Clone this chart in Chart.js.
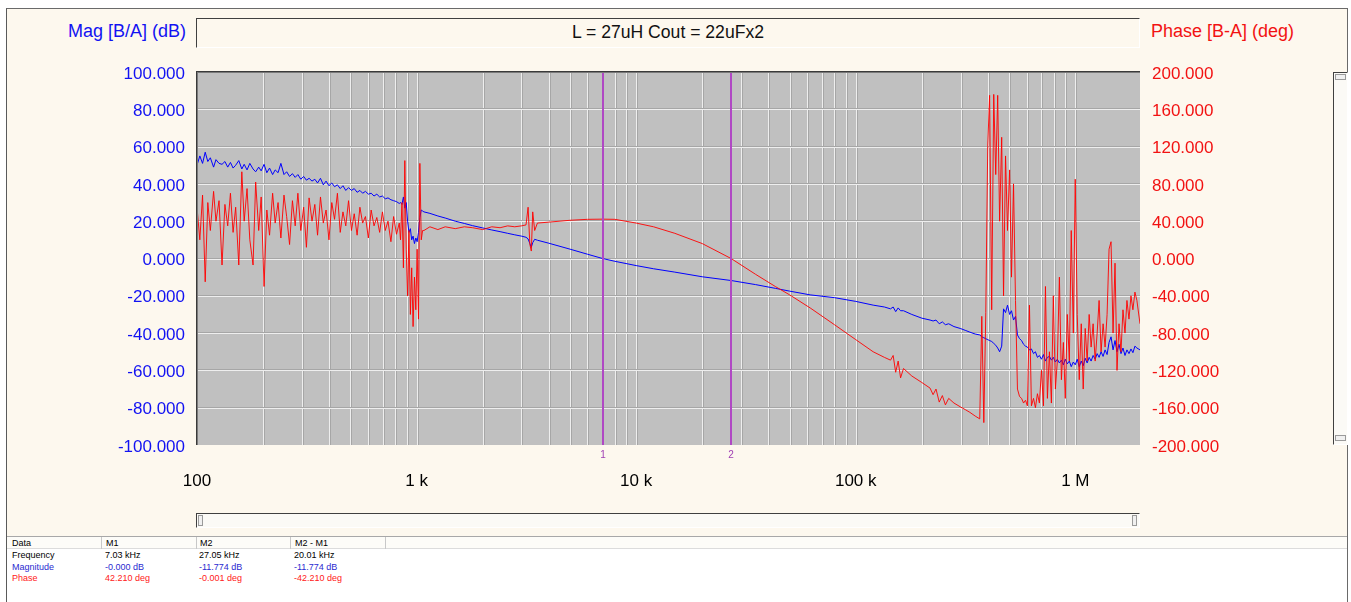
<!DOCTYPE html>
<html>
<head>
<meta charset="utf-8">
<script src="https://cdn.jsdelivr.net/npm/chart.js@4.4.0/dist/chart.umd.min.js"></script>
<style>
  html, body { margin: 0; padding: 0; width: 1351px; height: 602px; overflow: hidden; background: #fff; font-family: "Liberation Sans", Arial, sans-serif; }
  .abs { position: absolute; box-sizing: border-box; }
  #frame { left: 6px; top: 8px; width: 1342px; height: 594px; border-left: 1px solid #5a5a5a; border-top: 1px solid #6a6a6a; border-right: 1px solid #6a6a6a; background: #fff; }
  #panel { left: 7px; top: 9px; width: 1340px; height: 527px; background: #fdf8ee; }
  #chart { left: 0; top: 0; }
  #titleBox { left: 196px; top: 18px; width: 944px; height: 30px; border-top: 1px solid #404040; border-left: 1px solid #404040; border-bottom: 1px solid #fff; border-right: 1px solid #fff; text-align: center; font-size: 17.6px; line-height: 26px; color: #111; }
  .axisTitle { top: 20px; font-size: 18px; line-height: 22px; }
  #magTitle { left: 0; width: 186px; text-align: right; color: #1212f2; }
  #phaseTitle { left: 1151px; color: #f21212; }
  #hScroll { left: 196px; top: 513px; width: 944px; height: 15px; border-top: 1px solid #404040; border-left: 1px solid #404040; border-bottom: 1px solid #fff; border-right: 1px solid #fff; background: #fbfaf6; }
  #vScroll { left: 1333px; top: 72px; width: 15px; height: 373px; border-top: 1px solid #404040; border-left: 1px solid #404040; border-bottom: 1px solid #fff; border-right: 1px solid #fff; background: #fbfaf6; }
  .thumbV { width: 5px; height: 11px; border: 1px solid #9a9a9a; background: #f0f0f0; }
  .thumbH { width: 11px; height: 6px; border: 1px solid #9a9a9a; background: #f0f0f0; }
  #tableHead { left: 7px; top: 536px; width: 1340px; height: 13px; border-top: 1px solid #a8a8a8; border-bottom: 1px solid #dcdcdc; background: #fdfcf8; }
  .sep { top: 537px; width: 1px; height: 12px; background: #c8c8c8; }
  .cell { font-size: 9px; line-height: 11px; white-space: nowrap; }
</style>
</head>
<body>
<div id="frame" class="abs"></div>
<div id="panel" class="abs"></div>
<div id="titleBox" class="abs">L = 27uH Cout = 22uFx2</div>
<div id="magTitle" class="abs axisTitle">Mag [B/A] (dB)</div>
<div id="phaseTitle" class="abs axisTitle">Phase [B-A] (deg)</div>
<div id="hScroll" class="abs">
  <div class="abs thumbV" style="left:1px; top:1px;"></div>
  <div class="abs thumbV" style="left:935px; top:1px;"></div>
</div>
<div id="vScroll" class="abs">
  <div class="abs thumbH" style="left:1px; top:1px; width:11px;"></div>
  <div class="abs thumbH" style="left:1px; top:362px; width:11px;"></div>
</div>
<div id="tableHead" class="abs"></div>
<div class="abs sep" style="left:101px;"></div>
<div class="abs sep" style="left:196px;"></div>
<div class="abs sep" style="left:290px;"></div>
<div class="abs sep" style="left:385px;"></div>
<div id="table"></div>
<canvas id="chart" class="abs" width="1351" height="602"></canvas>

<script>
// --- DATA ---
// low band, 100 Hz .. 834 Hz (noisy)
const freqLow = [
  100, 103, 106, 109, 112, 115, 119, 122, 126, 130, 134, 138, 142, 146,
  150, 155, 160, 164, 169, 174, 180, 185, 191, 196,
  202, 208, 214, 221, 227, 234, 241, 249, 256, 264, 272, 280, 288, 297,
  306, 315, 324, 334, 344, 354, 365, 376, 387, 399,
  411, 423, 436, 449, 462, 476, 490, 505,
  520, 536, 552, 568, 585, 603, 621,
  640, 659, 679, 699, 720, 741, 764, 786, 810, 834
];
const magLow = [
  50, 55, 51, 57, 52, 54, 49, 53, 51, 50.5, 52, 49, 51.5, 48.5,
  50, 52.5, 48, 50.5, 47.5, 51, 48, 46.5, 49, 47,
  50.5, 46, 48.5, 45, 47.5, 46, 51, 45, 46.5, 44, 45.5, 43.5, 45, 42.5,
  44, 42, 43, 41.5, 42.5, 40.5, 43, 39.5, 41.5, 39,
  40.5, 38.5, 39.5, 37.5, 39, 36.5, 38, 36.5,
  37.5, 35.5, 36.5, 35, 36, 34.5, 35,
  33.5, 34.5, 33, 33.5, 32, 32.5, 31.5, 31, 30.5, 29.5
];
const phaseLow = [
  55, 20, 68, -25, 60, 30, 72, 40, 62, -7, 58, 35, 70, 28,
  55, -7, 93, 40, 75, 20, -7, 82, 30, 66,
  -30, 52, 25, 70, 38, 60, 22, 68, 45, 15, 62, 35, 70, 30,
  55, 12, 65, 40, 58, 25, 66, 38, 52, 20,
  60, 42, 70, 28, 50, 35, 62, 30,
  48, 25, 55, 38, 45, 22, 52,
  35, 44, 28, 50, 30, 40, 18, 45, 26, 38
];

// burst near 1 kHz
const freqBurst = [845, 858, 871, 884, 897, 910, 923, 937, 950, 964, 978, 992, 1006, 1020, 1035, 1050, 1065];
const magBurst = [30, 29, 33, 27, 30, 20, 14, 16, 10, 12, 8, 11, 9, 14, 22, 26, 25.5];
const phaseBurst = [20, 60, -10, 105, 10, -40, 30, -60, -10, -73, -20, -55, 10, -65, 102, 20, 30];

// mid band, 1.08 kHz .. 350 kHz
const freqMid = [
  1080, 1150, 1250, 1350, 1500, 1650, 1800, 2000, 2200, 2400,
  2600, 2800, 3000, 3150, 3220, 3280, 3330, 3380, 3450, 3550,
  4000, 5000, 6000, 7030, 8000, 10000, 12000, 15000, 20000, 27050,
  35000, 43000, 50000, 62000, 80000, 100000, 120000, 135000, 144000, 148000,
  152000, 156000, 160000, 165000, 180000, 200000, 218000, 225000, 232000, 240000,
  248000, 256000, 265000, 280000, 299000, 315000, 331000, 350000
];
const magMid = [
  25, 24.2, 22.8, 21.7, 20, 18.8, 17.6, 16.4, 15.3, 14.4,
  13.5, 12.7, 12, 11.4, 10.5, 8, 6, 8.5, 10.3, 9.8,
  8.2, 5, 2.3, 0, -1.5, -3.8, -5.5, -7.3, -9.8, -11.8,
  -14, -16, -17.5, -19.5, -21, -23, -25, -26, -27, -26,
  -28.5, -26.5, -28, -28, -30, -32, -33, -33.5, -33, -35,
  -34, -35.5, -35, -36.5, -37.5, -38.5, -39.5, -40.5
];
const phaseMid = [
  30, 34, 31, 34, 32, 34, 33, 31, 34, 33,
  35, 34, 35, 36, 55, 15, 8, 50, 30, 38,
  39, 41, 42, 42.2, 42, 38, 34, 27, 16, 0,
  -17, -30, -39, -53, -71, -87, -100, -106, -109, -104,
  -122, -110, -128, -118, -126, -133, -139, -146, -140, -154,
  -147, -157, -150, -155, -159, -162, -165, -169
];

// high band, 367 kHz .. 1.97 MHz (resonance mess)
const freqHigh = [
  367000, 375000, 383000, 391000, 399000, 407000, 416000, 425000, 434000, 443000,
  452000, 462000, 471000, 481000, 491000, 502000, 512000, 523000, 534000, 545000,
  557000, 569000, 581000, 593000, 605000, 618000, 631000, 645000, 658000, 672000,
  686000, 701000, 716000, 731000, 746000, 762000, 778000, 794000, 811000, 828000,
  846000, 864000, 882000, 900000, 919000, 939000, 958000, 979000, 999000, 1020000,
  1042000, 1064000, 1086000, 1109000, 1132000, 1156000, 1180000, 1205000, 1231000, 1257000,
  1283000, 1310000, 1338000, 1366000, 1395000, 1424000, 1454000, 1485000, 1516000, 1548000,
  1581000, 1614000, 1648000, 1683000, 1718000, 1755000, 1792000, 1829000, 1868000, 1907000,
  1970000
];
const magHigh = [
  -41, -42, -42.5, -43, -43.5, -44, -44.5, -45.5, -46.5, -48,
  -50, -47, -27, -29, -25, -30, -28, -33, -31, -41,
  -43, -44, -46, -47, -47.5, -49, -48.5, -51, -50, -53,
  -52, -54, -51.5, -55, -53, -52.5, -54.5, -53, -55.5, -54,
  -56, -54.5, -57, -54, -56.5, -55, -58, -55.5, -57, -54,
  -58, -55, -57.5, -53.5, -56, -53, -55, -52, -54, -51,
  -53, -50, -52.5, -49, -51.5, -45, -42, -49, -44, -50,
  -46, -51, -48, -52, -49, -51, -48.5, -50.5, -47, -48,
  -49
];
const phaseHigh = [
  -172, -62, -176, -58, 120, 175, -55, 176, 90, 175,
  40, 130, -40, 110, 30, 95, -20, 80, -45, -140,
  -148, -150, -155, -152, -158, -50, -158, -150, -160, -145,
  -155, -120, -158, -30, -150, -100, -155, -40, -140, -110,
  -20, -130, -90, -150, -60, -110, 30, -80, 85, -60,
  -130, -70, -140, -75, -110, -60, -95, -70, -110, -80,
  -45, -100, -70, -95, -60, 10, 18, -80, -5, -120,
  -70, -100, -55, -80, -45, -65, -40, -55, -36, -45,
  -70
];

// axes
const xMin = 100;
const xMax = 1970000;
const decadeFreqs = [100, 1000, 10000, 100000, 1000000];
const decadeLabels = ['100', '1 k', '10 k', '100 k', '1 M'];
const magMin = -100, magMax = 100, magStep = 20;
const phaseMin = -200, phaseMax = 200, phaseStep = 40;

// markers
const markerFreqs = [7030, 27050];
const markerNames = ['1', '2'];

// marker readout table
const tableHeader = ['Data', 'M1', 'M2', 'M2 - M1'];
const tableRows = [
  { name: 'Frequency', color: '#000000', cells: ['7.03 kHz', '27.05 kHz', '20.01 kHz'] },
  { name: 'Magnitude', color: '#2a2ad0', cells: ['-0.000 dB', '-11.774 dB', '-11.774 dB'] },
  { name: 'Phase', color: '#ff2020', cells: ['42.210 deg', '-0.001 deg', '-42.210 deg'] }
];

// --- HELPERS ---
const FONT = '"Liberation Sans", Arial, sans-serif';

function toPoints(freqs, values) {
  return freqs.map((f, i) => ({ x: f, y: values[i] }));
}

function buildGridFreqs() {
  const out = [];
  for (const d of decadeFreqs) {
    for (let m = 1; m <= 9; m++) {
      if (d * m > xMin && d * m < xMax) out.push(d * m);
    }
  }
  return out;
}

function renderTable() {
  const colX = [12, 106, 200, 295];
  let html = '';
  tableHeader.forEach((t, i) => {
    html += `<div class="abs cell" style="left:${colX[i]}px; top:538px;">${t}</div>`;
  });
  tableRows.forEach((row, r) => {
    const top = 550 + r * 11.5;
    html += `<div class="abs cell" style="left:${colX[0]}px; top:${top}px; color:${row.color};">${row.name}</div>`;
    row.cells.forEach((c, i) => {
      html += `<div class="abs cell" style="left:${colX[i + 1] - 1}px; top:${top}px; color:${row.color};">${c}</div>`;
    });
  });
  document.getElementById('table').innerHTML = html;
}

// --- PLOT DECORATION PLUGIN ---
const gridFreqs = buildGridFreqs();

const plotDecor = {
  id: 'plotDecor',
  beforeDatasetsDraw(chart) {
    const { ctx, chartArea: a, scales } = chart;
    const h = a.bottom - a.top;
    const w = a.right - a.left;
    ctx.save();
    ctx.fillStyle = '#c0c0c0';
    ctx.fillRect(a.left, a.top, w, h);

    // vertical log grid
    gridFreqs.forEach(f => {
      const x = Math.round(scales.x.getPixelForValue(f));
      ctx.fillStyle = '#eeeeee';
      ctx.fillRect(x, a.top, 1, h);
      ctx.fillStyle = '#a6a6a6';
      ctx.fillRect(x + 1, a.top, 1, h);
    });

    // horizontal grid
    for (let v = magMin + magStep; v < magMax; v += magStep) {
      const y = Math.round(scales.y.getPixelForValue(v));
      ctx.fillStyle = '#a6a6a6';
      ctx.fillRect(a.left, y - 1, w, 1);
      ctx.fillStyle = '#eeeeee';
      ctx.fillRect(a.left, y, w, 1);
    }
    ctx.restore();
  },
  afterDatasetsDraw(chart) {
    const { ctx, chartArea: a, scales } = chart;
    ctx.save();
    // markers
    markerFreqs.forEach((f, i) => {
      const x = Math.round(scales.x.getPixelForValue(f));
      ctx.fillStyle = '#b048c4';
      ctx.fillRect(x - 1, a.top, 2, a.bottom - a.top);
      ctx.font = '10px ' + FONT;
      ctx.textAlign = 'center';
      ctx.textBaseline = 'middle';
      ctx.fillStyle = '#a040b4';
      ctx.fillText(markerNames[i], x, a.bottom + 10);
    });
    // sunken border (top / left)
    ctx.fillStyle = '#3a3a3a';
    ctx.fillRect(a.left - 1, a.top - 1, a.right - a.left + 1, 1);
    ctx.fillRect(a.left - 1, a.top - 1, 1, a.bottom - a.top + 1);
    ctx.fillStyle = '#7a7a7a';
    ctx.fillRect(a.left, a.top, a.right - a.left, 1);
    ctx.fillRect(a.left, a.top, 1, a.bottom - a.top);
    ctx.restore();
  }
};

// --- CHART ---
function renderChart() {
  const magData = toPoints(freqLow, magLow)
    .concat(toPoints(freqBurst, magBurst), toPoints(freqMid, magMid), toPoints(freqHigh, magHigh));
  const phaseData = toPoints(freqLow, phaseLow)
    .concat(toPoints(freqBurst, phaseBurst), toPoints(freqMid, phaseMid), toPoints(freqHigh, phaseHigh));

  new Chart(document.getElementById('chart'), {
    type: 'line',
    data: {
      datasets: [
        {
          label: 'Phase [B-A] (deg)',
          data: phaseData,
          yAxisID: 'y1',
          borderColor: 'rgba(255, 0, 0, 0.9)',
          borderWidth: 1,
          pointRadius: 0,
          tension: 0,
          order: 0
        },
        {
          label: 'Mag [B/A] (dB)',
          data: magData,
          yAxisID: 'y',
          borderColor: '#0000ff',
          borderWidth: 1,
          pointRadius: 0,
          tension: 0,
          order: 1
        }
      ]
    },
    options: {
      responsive: false,
      animation: false,
      devicePixelRatio: 1,
      events: [],
      layout: { padding: { top: 72, left: 0, right: 0, bottom: 0 } },
      plugins: { legend: { display: false }, tooltip: { enabled: false } },
      scales: {
        x: {
          type: 'logarithmic',
          min: xMin,
          max: xMax,
          grid: { display: false },
          border: { display: false },
          afterBuildTicks: axis => { axis.ticks = decadeFreqs.map(v => ({ value: v })); },
          afterFit: axis => { axis.height = 157; },
          ticks: {
            autoSkip: false,
            maxRotation: 0,
            padding: 18,
            color: '#000000',
            font: { family: FONT, size: 17 },
            callback: v => {
              const i = decadeFreqs.indexOf(v);
              return i >= 0 ? decadeLabels[i] : '';
            }
          }
        },
        y: {
          position: 'left',
          min: magMin,
          max: magMax,
          grid: { display: false },
          border: { display: false },
          afterFit: axis => { axis.width = 197; },
          ticks: {
            stepSize: magStep,
            padding: 4,
            labelOffset: 2,
            color: '#1212f2',
            font: { family: FONT, size: 17 },
            callback: v => v.toFixed(3)
          }
        },
        y1: {
          position: 'right',
          min: phaseMin,
          max: phaseMax,
          grid: { display: false },
          border: { display: false },
          afterFit: axis => { axis.width = 211; },
          ticks: {
            stepSize: phaseStep,
            padding: 4,
            labelOffset: 2,
            color: '#f21212',
            font: { family: FONT, size: 17 },
            callback: v => v.toFixed(3)
          }
        }
      }
    },
    plugins: [plotDecor]
  });
}

// --- START ---
renderTable();
renderChart();
</script>
</body>
</html>
